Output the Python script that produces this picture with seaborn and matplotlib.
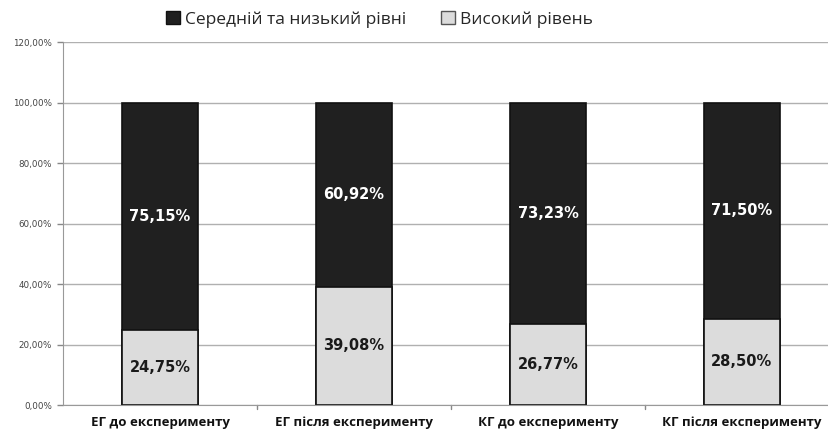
import matplotlib
matplotlib.use("Agg")
import matplotlib.pyplot as plt
from matplotlib.patches import Patch
import seaborn as sns
import pandas as pd

categories = ["ЕГ до експерименту", "ЕГ після експерименту", "КГ до експерименту", "КГ після експерименту"]
low_mid = [75.15, 60.92, 73.23, 71.50]
high = [24.75, 39.08, 26.77, 28.50]
series_names = ["Середній та низький рівні", "Високий рівень"]

dark = "#202020"
light = "#dcdcdc"

sns.set_style("white")
plt.rcParams["font.family"] = ["DejaVu Sans"]

df = pd.DataFrame({"cat": categories, "low_mid": low_mid, "high": high})
df["total"] = df["low_mid"] + df["high"]

fig = plt.figure(figsize=(8.29, 4.30), dpi=100)
ax = fig.add_axes([0.076, 0.058, 0.936, 0.844])

sns.barplot(data=df, x="cat", y="total", color=dark, width=0.39,
            edgecolor="#111111", linewidth=1.2, ax=ax, saturation=1)
sns.barplot(data=df, x="cat", y="high", color=light, width=0.39,
            edgecolor="#111111", linewidth=1.2, ax=ax, saturation=1)

for i, (lm, h) in enumerate(zip(low_mid, high)):
    ax.text(i, h + lm / 2, f"{lm:.2f}%".replace(".", ","), ha="center", va="center",
            color="white", fontsize=10.5, fontweight="bold", family="DejaVu Sans")
    ax.text(i, h / 2, f"{h:.2f}%".replace(".", ","), ha="center", va="center",
            color="#1a1a1a", fontsize=10.5, fontweight="bold", family="DejaVu Sans")

ax.set_ylim(0, 120)
ax.set_xlim(-0.5, 3.5)
yt = [0, 20, 40, 60, 80, 100, 120]
ax.set_yticks(yt)
ax.set_yticklabels([f"{v:.2f}%".replace(".", ",") for v in yt], fontsize=6.3, color="#444444")
ax.yaxis.grid(True, color="#b0b0b0", linewidth=1)
ax.set_axisbelow(True)
ax.set_xlabel("")
ax.set_ylabel("")
ax.set_xticks(range(len(categories)))
ax.set_xticklabels(categories, fontsize=9.5, fontweight="bold", family=["Open Sans", "DejaVu Sans"], color="#111111")
ax.tick_params(axis="x", length=0, pad=8)
ax.tick_params(axis="y", length=4, width=1, color="#888888", left=True, pad=4)
for x in [0.5, 1.5, 2.5]:
    ax.axvline(x, ymin=-0.012, ymax=0, color="#888888", linewidth=1, clip_on=False)
for s in ["top", "right"]:
    ax.spines[s].set_visible(False)
ax.spines["left"].set_color("#999999")
ax.spines["bottom"].set_color("#999999")

handles = [Patch(facecolor=dark, edgecolor="#111111"), Patch(facecolor=light, edgecolor="#555555")]
fig.legend(handles, series_names, loc="center", bbox_to_anchor=(0.458, 0.955), ncol=2,
           frameon=False, prop={"family": ["Open Sans", "DejaVu Sans"], "size": 12.5},
           handlelength=0.8, handleheight=0.8, handletextpad=0.3, columnspacing=2.0)

fig.savefig("out.png", dpi=100, facecolor="white")
